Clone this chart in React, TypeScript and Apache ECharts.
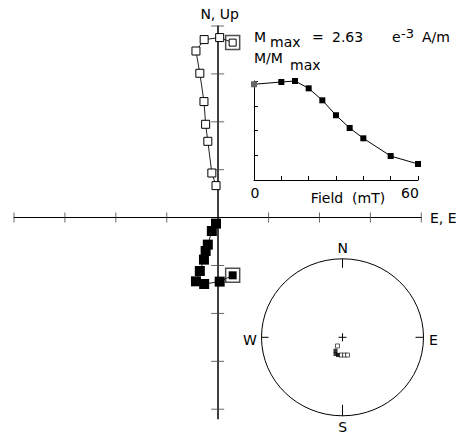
import React, { useEffect, useRef } from 'react';
import * as echarts from 'echarts';

// Demagnetisation steps (mT) and normalised intensity M/Mmax
const fieldSteps = [0, 10, 15, 20, 25, 30, 35, 40, 50, 60];
const intensity = [0.967, 0.99, 1.0, 0.926, 0.805, 0.654, 0.525, 0.421, 0.242, 0.162];

// Zijderveld components (arbitrary units, 1 tick = 1 unit)
const eastComp = [0.295, 0.04, -0.265, -0.426, -0.35, -0.269, -0.236, -0.193, -0.114, -0.032];
const upComp = [3.653, 3.758, 3.716, 3.478, 3.013, 2.422, 1.948, 1.593, 0.931, 0.668];
const northComp = [-1.205, -1.336, -1.386, -1.33, -1.115, -0.877, -0.697, -0.564, -0.28, -0.125];
const zTicks = [-4, -3, -2, -1, 1, 2, 3, 4];

// Stereonet projected points (unit circle coordinates)
const stereoOpenX = [-0.062, -0.019, 0.025, 0.062];
const stereoOpenY = [-0.11, -0.226, -0.226, -0.226];
const stereoFilledX = [-0.086, -0.086, -0.056];
const stereoFilledY = [-0.17, -0.213, -0.226];

const FONT = 'DejaVu Sans';

const txt = (text: string, x: number, y: number, size = 14, align = 'left') => ({
  type: 'text',
  x,
  y,
  silent: true,
  style: {
    text,
    fill: '#000',
    font: `normal ${size}px "${FONT}"`,
    align,
    verticalAlign: 'middle',
  },
});

const ln = (x1: number, y1: number, x2: number, y2: number) => ({
  type: 'line',
  silent: true,
  shape: { x1, y1, x2, y2 },
  style: { stroke: '#000', lineWidth: 1 },
});

const SC = { cx: 342.5, cy: 337.3, rx: 81, ry: 78.5 };

const nameStyle = (padding: number[]) => ({
  color: '#000',
  fontSize: 14,
  fontFamily: FONT,
  fontWeight: 'normal',
  padding,
});

function buildOption() {
  const openData = eastComp.map((e, i) => ({
    value: [e, upComp[i]],
    symbolSize: i === 0 ? 7 : 8,
  }));
  const filledData = eastComp.map((e, i) => ({
    value: [e, northComp[i]],
    symbolSize: i === 0 ? 8 : 10,
  }));
  const insetData = fieldSteps.map((f, i) => ({
    value: [f, intensity[i]],
    itemStyle: i === 0 ? { color: '#666' } : undefined,
  }));

  return {
    animation: false,
    backgroundColor: '#fff',
    textStyle: { fontFamily: FONT, fontWeight: 'normal' },
    grid: [
      { left: 14, top: 26, width: 407.3, height: 392.8, containLabel: false, outerBoundsMode: 'none' },
      { left: 254, top: 81, width: 164, height: 99, containLabel: false, outerBoundsMode: 'none' },
      { left: SC.cx - SC.rx, top: SC.cy - SC.ry, width: SC.rx * 2, height: SC.ry * 2, containLabel: false, outerBoundsMode: 'none' },
    ],
    xAxis: [
      {
        type: 'value',
        gridIndex: 0,
        min: -4,
        max: 4,
        axisLine: { show: true, onZero: true, lineStyle: { color: '#000', width: 1 } },
        axisTick: { show: false },
        axisLabel: { show: false },
        splitLine: { show: false },
        name: 'E, E',
        nameLocation: 'end',
        nameGap: 8.7,
        nameMoveOverlap: false,
        nameTextStyle: nameStyle([0, 0, 9, 0]),
      },
      {
        type: 'value',
        gridIndex: 1,
        min: 0,
        max: 60,
        interval: 10,
        axisLine: { show: true, onZero: false, lineStyle: { color: '#000', width: 1 } },
        axisTick: { show: true, inside: true, length: 4, lineStyle: { color: '#000', width: 1 } },
        splitLine: { show: false },
        axisLabel: {
          show: true,
          margin: 6,
          showMinLabel: true,
          showMaxLabel: true,
          formatter: (v: number) => (v === 0 ? '{a|0}' : v === 60 ? '{b|60}' : ''),
          rich: {
            a: { fontSize: 14, fontFamily: FONT, fontWeight: 'normal', color: '#000', padding: [0, 0, 0, 2] },
            b: { fontSize: 14, fontFamily: FONT, fontWeight: 'normal', color: '#000', padding: [0, 16, 2, 0] },
          },
        },
        name: 'Field  (mT)',
        nameLocation: 'middle',
        nameGap: 10.5,
        nameMoveOverlap: false,
        nameTextStyle: nameStyle([0, 0, 0, 24]),
      },
      { type: 'value', gridIndex: 2, min: -1, max: 1, show: false },
    ],
    yAxis: [
      {
        type: 'value',
        gridIndex: 0,
        min: -4.2,
        max: 4,
        axisLine: { show: true, onZero: true, lineStyle: { color: '#000', width: 1.5 } },
        axisTick: { show: false },
        axisLabel: { show: false },
        splitLine: { show: false },
        name: 'N, Up',
        nameLocation: 'end',
        nameGap: 5,
        nameMoveOverlap: false,
        nameTextStyle: nameStyle([0, 0, 0, 4]),
      },
      {
        type: 'value',
        gridIndex: 1,
        min: 0,
        max: 1,
        interval: 0.25,
        axisLine: { show: true, onZero: false, lineStyle: { color: '#000', width: 1 } },
        axisTick: { show: true, inside: true, length: 4, lineStyle: { color: '#000', width: 1 } },
        axisLabel: { show: false },
        splitLine: { show: false },
      },
      { type: 'value', gridIndex: 2, min: -1, max: 1, show: false },
    ],
    series: [
      {
        name: 'xticks',
        type: 'scatter',
        xAxisIndex: 0,
        yAxisIndex: 0,
        silent: true,
        symbol: 'rect',
        symbolSize: [1, 10],
        itemStyle: { color: '#444' },
        data: zTicks.map((t) => [t, 0]),
        z: 1,
      },
      {
        name: 'yticks',
        type: 'scatter',
        xAxisIndex: 0,
        yAxisIndex: 0,
        silent: true,
        symbol: 'rect',
        symbolSize: [13, 1],
        itemStyle: { color: '#444' },
        data: zTicks.map((t) => [0, t]),
        z: 1,
      },
      {
        name: 'NRM',
        type: 'scatter',
        xAxisIndex: 0,
        yAxisIndex: 0,
        silent: true,
        symbol: 'rect',
        symbolSize: 14,
        itemStyle: { color: '#fff', borderColor: '#222', borderWidth: 1.5 },
        data: [
          [eastComp[0], upComp[0]],
          [eastComp[0], northComp[0]],
        ],
        z: 2,
      },
      {
        name: 'Vertical',
        type: 'line',
        xAxisIndex: 0,
        yAxisIndex: 0,
        symbol: 'rect',
        showAllSymbol: true,
        clip: false,
        itemStyle: { color: '#fff', borderColor: '#000', borderWidth: 1 },
        lineStyle: { color: '#222', width: 1 },
        data: openData,
        z: 3,
      },
      {
        name: 'Horizontal',
        type: 'line',
        xAxisIndex: 0,
        yAxisIndex: 0,
        symbol: 'rect',
        showAllSymbol: true,
        clip: false,
        itemStyle: { color: '#000', borderColor: '#000', borderWidth: 0 },
        lineStyle: { color: '#222', width: 1 },
        data: filledData,
        z: 3,
      },
      {
        name: 'Intensity',
        type: 'line',
        xAxisIndex: 1,
        yAxisIndex: 1,
        symbol: 'rect',
        symbolSize: 6,
        showAllSymbol: true,
        clip: false,
        itemStyle: { color: '#000' },
        lineStyle: { color: '#000', width: 1 },
        data: insetData,
        z: 3,
      },
      {
        name: 'StereoOpen',
        type: 'scatter',
        xAxisIndex: 2,
        yAxisIndex: 2,
        symbol: 'rect',
        symbolSize: 4,
        itemStyle: { color: '#fff', borderColor: '#000', borderWidth: 0.8 },
        data: stereoOpenX.map((x, i) => [x, stereoOpenY[i]]),
        z: 4,
      },
      {
        name: 'StereoFilled',
        type: 'scatter',
        xAxisIndex: 2,
        yAxisIndex: 2,
        symbol: 'rect',
        symbolSize: 4,
        itemStyle: { color: '#000' },
        data: stereoFilledX.map((x, i) => [x, stereoFilledY[i]]),
        z: 5,
      },
    ],
    graphic: [
      // Mmax label
      txt('M', 254, 37),
      txt('max', 270, 42),
      txt('=', 312, 37),
      txt('2.63', 332, 37),
      txt('e', 392, 37),
      txt('-3', 401, 33, 13),
      txt('A/m', 422, 37),
      txt('M/M', 254, 58),
      txt('max', 290, 65),
      // stereonet
      {
        type: 'ellipse',
        silent: true,
        shape: { cx: SC.cx, cy: SC.cy, rx: SC.rx, ry: SC.ry },
        style: { fill: 'none', stroke: '#000', lineWidth: 1 },
      },
      ln(SC.cx, SC.cy - SC.ry, SC.cx, SC.cy - SC.ry + 9),
      ln(SC.cx, SC.cy + SC.ry, SC.cx, SC.cy + SC.ry - 11),
      ln(SC.cx - SC.rx, SC.cy, SC.cx - SC.rx + 7, SC.cy),
      ln(SC.cx + SC.rx, SC.cy, SC.cx + SC.rx - 8, SC.cy),
      ln(SC.cx - 4, SC.cy, SC.cx + 4, SC.cy),
      ln(SC.cx, SC.cy - 4, SC.cx, SC.cy + 4),
      txt('N', 342.7, 248.3, 14, 'center'),
      txt('S', 342.7, 426.7, 14, 'center'),
      txt('W', 250, 340, 14, 'center'),
      txt('E', 433.3, 340, 14, 'center'),
    ],
  };
}

export default function App() {
  const ref = useRef<HTMLDivElement>(null);
  useEffect(() => {
    if (!ref.current) return;
    const chart = echarts.init(ref.current, null, { renderer: 'svg' });
    chart.setOption(buildOption() as any);
    return () => chart.dispose();
  }, []);
  return (
    <div
      ref={ref}
      style={{ position: 'absolute', left: 0, top: 0, width: 474, height: 436, background: '#fff' }}
    />
  );
}
